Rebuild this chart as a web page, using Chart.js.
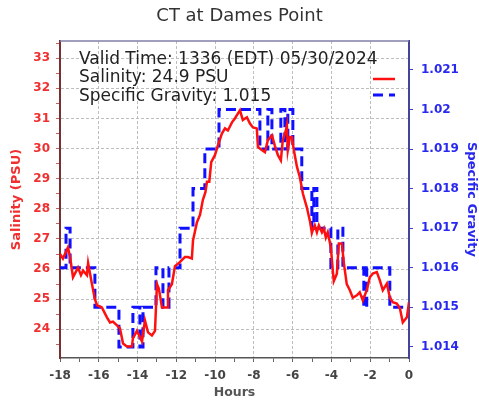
<!DOCTYPE html>
<html>
<head>
<meta charset="utf-8">
<script src="https://cdn.jsdelivr.net/npm/chart.js@4.4.1/dist/chart.umd.min.js"></script>
<style>
  html, body { margin: 0; padding: 0; background: #fff; }
</style>
</head>
<body>
<canvas id="chart" width="479" height="400"></canvas>
<script>
// salinity readings (hours before valid time, PSU)
const hours = [
  -18, -17.85, -17.59, -17.48, -17.33, -17.07, -16.92, -16.81, -16.61, -16.55,
  -16.35, -16.2, -16.09, -15.84, -15.58, -15.42, -15.27, -15.06, -14.91, -14.8,
  -14.75, -14.55, -14.29, -14.24, -14.03, -13.77, -13.62, -13.46, -13.26, -13.1,
  -13.0, -12.9, -12.74, -12.48, -12.43, -12.23, -12.07, -11.87, -11.56, -11.4,
  -11.2, -11.14, -10.94, -10.78, -10.63, -10.5, -10.42, -10.3, -10.2, -10.01,
  -9.86, -9.65, -9.49, -9.34, -9.13, -8.98, -8.82, -8.72, -8.57, -8.36,
  -8.21, -8.05, -7.85, -7.79, -7.59, -7.43, -7.28, -7.07, -6.92, -6.76,
  -6.61, -6.51, -6.35, -6.3, -6.25, -6.14, -6.04, -5.94, -5.78, -5.63,
  -5.47, -5.27, -5.11, -5.01, -4.96, -4.86, -4.75, -4.65, -4.49, -4.39,
  -4.29, -4.19, -4.03, -3.93, -3.88, -3.72, -3.62, -3.46, -3.36, -3.21,
  -3.05, -2.9, -2.69, -2.54, -2.38, -2.18, -2.02, -1.87, -1.66, -1.5,
  -1.35, -1.14, -0.99, -0.84, -0.63, -0.47, -0.32, -0.11, 0
];
const salinity = [
  26.5, 26.35, 26.72, 26.4, 25.73, 26.05, 25.8, 25.95, 25.8, 26.2,
  25.5, 25.0, 24.8, 24.73, 24.4, 24.23, 24.26, 24.13, 24.03, 23.7,
  23.53, 23.43, 23.43, 23.7, 23.95, 23.6, 24.3, 23.9, 23.8, 23.95,
  25.5, 25.35, 24.73, 24.73, 25.3, 25.5, 26.1, 26.2, 26.4, 26.4,
  26.35, 26.95, 27.55, 27.8, 28.3, 28.55, 28.9, 28.9, 29.55, 29.78,
  30.1, 30.5, 30.67, 30.6, 30.87, 31.0, 31.17, 31.27, 30.95, 31.04,
  30.84, 30.7, 30.67, 30.05, 29.95, 29.88, 30.28, 30.44, 30.1, 29.78,
  29.61, 30.28, 30.6, 30.77, 29.95, 30.38, 30.38, 29.95, 29.4, 29.05,
  28.5, 28.05, 27.6, 27.2, 27.3, 27.45, 27.22, 27.45, 27.22, 27.35,
  27.05, 27.22, 26.72, 25.95, 25.6, 25.85, 26.85, 26.85, 26.2, 25.5,
  25.3, 25.05, 25.13, 25.23, 24.96, 25.3, 25.73, 25.85, 25.9, 25.62,
  25.3, 25.52, 25.06, 24.9, 24.86, 24.7, 24.23, 24.4, 24.9
];

// specific gravity, held until the next change
const sgHours = [
  -18, -17.69, -17.48, -16.2, -14.96, -14.24, -13.88, -13.72, -13.05, -12.69,
  -12.38, -11.81, -11.14, -10.53, -9.8, -7.69, -7.28, -7.07, -6.61, -6.4,
  -6.25, -5.99, -5.53, -5.01, -4.91, -4.75, -4.03, -3.67, -3.41, -2.33,
  -2.18, -0.99, 0
];
const specificGravity = [
  1.016, 1.017, 1.016, 1.015, 1.014, 1.015, 1.014, 1.015, 1.016, 1.015,
  1.016, 1.017, 1.018, 1.019, 1.020, 1.019, 1.020, 1.019, 1.020, 1.019,
  1.020, 1.019, 1.018, 1.017, 1.018, 1.017, 1.016, 1.017, 1.016, 1.015,
  1.016, 1.015, 1.015
];

const salinityRange = [23.05, 33.57];
const gravityRange = [1.01372, 1.02173];
const legendLines = [
  'Valid Time: 1336 (EDT) 05/30/2024',
  'Salinity: 24.9 PSU',
  'Specific Gravity: 1.015'
];

const FONT = '"DejaVu Sans", sans-serif';
Chart.defaults.font.family = FONT;

// top frame line and the text legend inside the plot
const overlay = {
  id: 'overlay',
  afterDraw(chart) {
    const {ctx, chartArea: a} = chart;
    ctx.save();

    ctx.strokeStyle = '#8080a8';
    ctx.lineWidth = 1.5;
    ctx.beginPath();
    ctx.moveTo(a.left, a.top);
    ctx.lineTo(a.right, a.top);
    ctx.stroke();

    ctx.fillStyle = '#222';
    ctx.font = '17px ' + FONT;
    ctx.textBaseline = 'alphabetic';
    ctx.textAlign = 'left';
    [63.5, 82, 100.5].forEach((y, i) => ctx.fillText(legendLines[i], 79, y));

    // line samples
    ctx.lineWidth = 2.5;
    ctx.strokeStyle = '#ff1010';
    ctx.beginPath();
    ctx.moveTo(373, 79);
    ctx.lineTo(395, 79);
    ctx.stroke();
    ctx.lineWidth = 3;
    ctx.strokeStyle = '#1010ff';
    ctx.setLineDash([10, 6]);
    ctx.beginPath();
    ctx.moveTo(373, 95);
    ctx.lineTo(395, 95);
    ctx.stroke();

    ctx.restore();
  }
};

new Chart(document.getElementById('chart'), {
  type: 'line',
  data: {
    datasets: [
      {
        label: 'Salinity',
        data: hours.map((h, i) => ({x: h, y: salinity[i]})),
        borderColor: '#ff1010',
        borderWidth: 2.5,
        pointRadius: 0,
        yAxisID: 'y'
      },
      {
        label: 'Specific Gravity',
        data: sgHours.map((h, i) => ({x: h, y: specificGravity[i]})),
        borderColor: '#1010ff',
        borderWidth: 3,
        borderDash: [10, 5],
        stepped: 'before',
        pointRadius: 0,
        yAxisID: 'y1'
      }
    ]
  },
  options: {
    responsive: false,
    animation: false,
    devicePixelRatio: 1,
    layout: {padding: 0},
    plugins: {
      legend: {display: false},
      tooltip: {enabled: false},
      title: {
        display: true,
        text: 'CT at Dames Point',
        color: '#333',
        font: {size: 18, weight: 'normal', lineHeight: 1.2},
        padding: {top: 6, bottom: 13.4}
      }
    },
    scales: {
      x: {
        type: 'linear',
        min: -18,
        max: 0,
        afterFit: s => { s.height = 42; },
        ticks: {
          stepSize: 1,
          autoSkip: false,
          maxRotation: 0,
          padding: 7,
          color: '#444',
          font: {size: 12, weight: 'bold'},
          callback: v => (v % 2 === 0 ? String(v) : '')
        },
        grid: {
          color: c => (c.tick && c.tick.value % 2 === 0 && c.tick.value > -18 && c.tick.value < 0) ? '#bdbdbd' : 'transparent',
          lineWidth: 1,
          tickColor: '#666',
          tickLength: 4
        },
        border: {color: '#555', width: 1.5, dash: [3, 2]},
        title: {
          display: true,
          text: 'Hours',
          color: '#555',
          font: {size: 12.5, weight: 'bold', lineHeight: 1.2},
          padding: 0
        }
      },
      y: {
        position: 'left',
        min: salinityRange[0],
        max: salinityRange[1],
        afterFit: s => { s.width = 60; },
        ticks: {
          stepSize: 0.5,
          includeBounds: false,
          autoSkip: false,
          padding: 6,
          color: '#f03030',
          font: {size: 12, weight: 'bold'},
          callback: v => (Number.isInteger(v) ? String(v) : '')
        },
        grid: {
          color: c => (c.tick && Number.isInteger(c.tick.value)) ? '#bdbdbd' : 'transparent',
          tickColor: '#c06060',
          tickLength: 4
        },
        border: {color: '#7a3030', width: 2, dash: [3, 2]},
        title: {
          display: true,
          text: 'Salinity (PSU)',
          color: '#f03030',
          font: {size: 13, weight: 'bold', lineHeight: 1.2},
          padding: {top: 9, bottom: 0}
        }
      },
      y1: {
        position: 'right',
        min: gravityRange[0],
        max: gravityRange[1],
        afterFit: s => { s.width = 70; },
        ticks: {
          stepSize: 0.001,
          includeBounds: false,
          autoSkip: false,
          padding: 8,
          color: '#2828f0',
          font: {size: 12, weight: 'bold'},
          callback: v => String(parseFloat(v.toFixed(3)))
        },
        grid: {
          drawOnChartArea: false,
          tickColor: '#4040c0',
          tickLength: 4
        },
        border: {color: '#44449a', width: 2},
        title: {
          display: true,
          text: 'Specific Gravity',
          color: '#2828f0',
          font: {size: 13, weight: 'bold', lineHeight: 1.2},
          padding: {top: 0, bottom: 0}
        }
      }
    }
  },
  plugins: [overlay]
});
</script>
</body>
</html>
